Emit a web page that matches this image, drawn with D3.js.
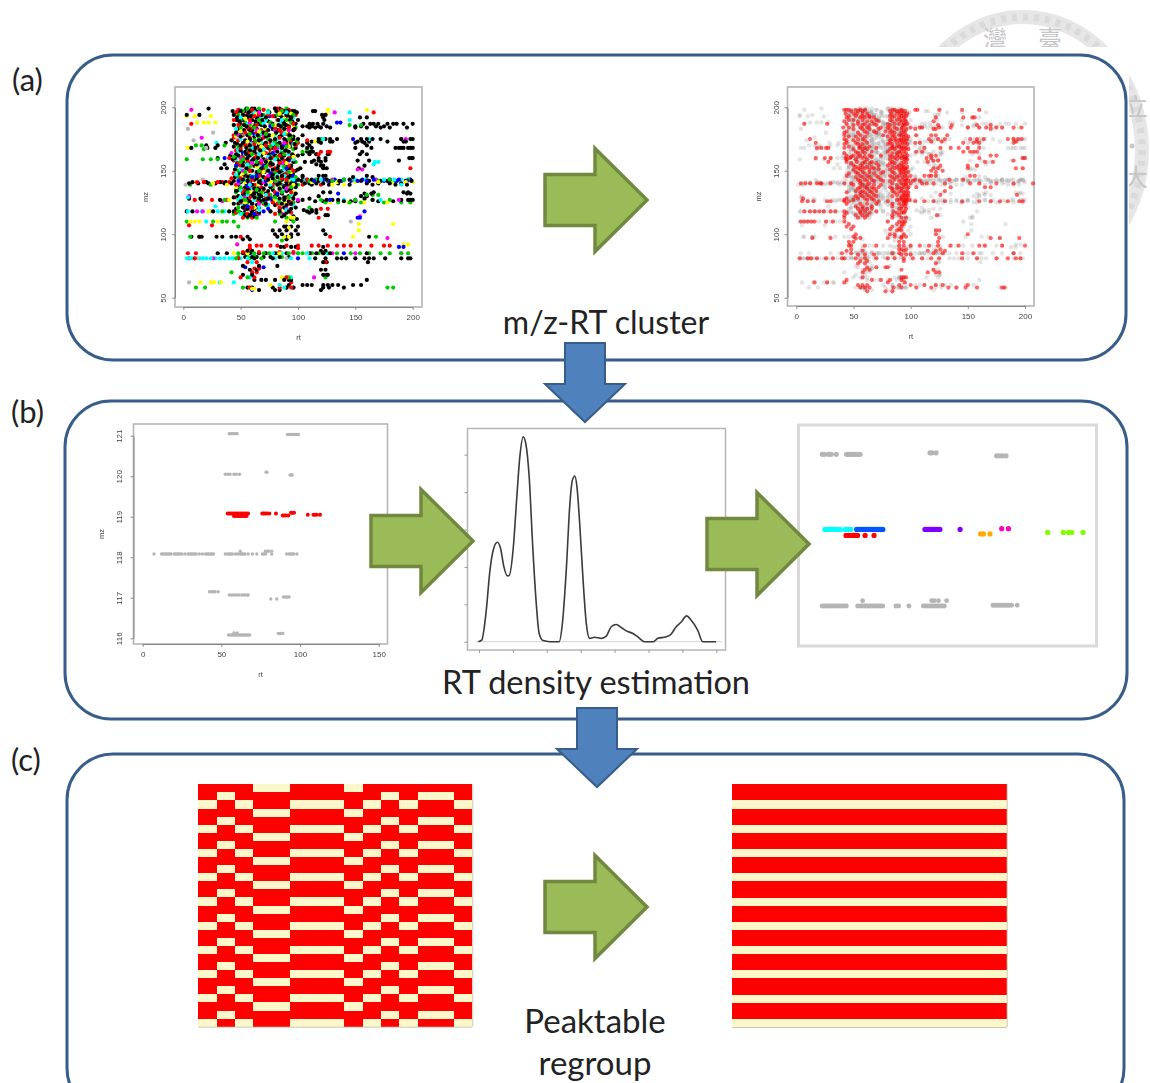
<!DOCTYPE html>
<html>
<head>
<meta charset="utf-8">
<script src="https://cdnjs.cloudflare.com/ajax/libs/d3/7.8.5/d3.min.js"></script>
<style>
  html, body { margin: 0; padding: 0; background: #fff; }
  svg { display: block; }
</style>
</head>
<body>
<div id="chart"></div>
<script>
// each row is [mz, rt, rt, rt ...]
const clusterBlack = [
  [199,22,55,60,62,80,84],[197,43,50,54,58,63,66,81,88,91,95,97,113,115],[194,3,14,44,52,61,68,84,90,121,124],
  [192,47,56,64,72,86,94,122,154,160],[190,46,52,60,69,83,93,100,123],
  [187,49,58,66,78,88,98,110,113,117,122,157,163,166,170,178,183,186,192,200],[185,55,62,71,85,92,104,108,112,118,125,150,155,168,175],
  [182,53,60,74,82,90,96],[178,56,65,75,86,93,104],[175,58,68,80,88,96,100,118,124,128,134,155,160,165,172,190,198,200],
  [172,37,45,52,61,72,84,94,108,120,150,158],[170,20,30,50,58,66,78,90,104,110,160],[168,7,21,28,55,63,74,86,98,188,192,196,198],
  [165,54,62,70,82,92,108,111,113,156],[162,41,48,58,68,80,88,100],[160,30,45,56,65,76,86,94,118,124,197,199,200],
  [157,52,60,72,84,96,106,112,120],[155,36,48,64,78,90,116],[152,33,38,55,68,82,92,102,122,125,153],[150,50,60,74,86,98],
  [147,53,66,78,88,94],[145,45,56,70,82,92,104,148,165],[143,52,62,74,86,100,112,117,125,145],[141,8,20,32,37,50,58,66,80,90],
  [140,5,13,22,28,36,42,55,68,84,94,106,110,116,122,135,160,170,180,190],[137,54,64,76,88,98],[135,48,57,66,78,92],
  [132,54,62,72,86,98,158,164,195,198],[130,48,58,68,80,92],[128,5,15,56,66,74,84,96,110,158],
  [127,32,50,70,88,104,125,130,135,165,190,196,198,200],[124,44,48,60,72,86,94],[121,52,58,66,88,98],
  [118,3,8,26,40,44,54,60,76,84,92,108,112],[115,54,58,64,88,124,126],[112,94,99],[106,88,90,94,100],[103,78,84,90,98,122],
  [100,80,86,94,100,124],[98,7,14,16,29,34,42,46,56,82,90,94,162],[96,52,58,90],[90,85,88,94,98,122],[87,56,60,120,124],
  [85,30,38,52,58,66,72,80,90,110,116,122,128,160],[82,54,60,64,70,76,84,92],[81,62,78,115,124,134,138,142,150,158,162,166,176,190,196,198],
  [78,122,125,161],[75,52,66,82],[72,58,64,120,124],[68,52,60,122,125,126],[64,62,68,72,80,88,92,94,160],
  [60,92,104,108,112,122,126,130,135,148,155],[58,56,60,78,90,96,122,127,140],[56,66,80,84,120],
  [196,47,57,65,75,86,92,99],[193,55,59,66,80,93],[189,49,63,74,87,95],[186,44,53,68,83,89],[183,48,57,64,78,88,97],[180,46,59,70,81,91],
  [177,50,62,72,84,96],[174,42,54,66,76,90],[171,47,57,69,82,97],[169,44,60,73,86,93],[166,50,58,67,79,89],[163,46,55,64,75,85,95],
  [159,43,53,61,70,82,91],[156,47,56,66,76,88],[154,52,62,72,83,94],[151,45,57,68,78,90,100],[149,49,64,71,84,96],[146,48,59,67,76,86,95],
  [144,54,64,78,90],[142,44,56,68,84,96,103,109,118,128,136,150,155,162,172,178,186,194,199],[139,48,60,72,82,90,98,112,127,145,165,185,195],
  [136,50,62,70,84,94],[134,46,56,64,74,90],[131,52,60,66,82,96],[129,44,54,62,76,88],[126,50,58,68,78,92,100,115,122,140,146,150,170,183],
  [123,54,64,80,90],[120,46,56,62,84,94],[117,50,60,66,90,110,116],[114,56,62,86,96],
  [184,110,115,120,128,150,160,172,180,195],[173,112,118,128,130,152,156,162,178,192,194],[168,108,112,150,164,185,190,200],
  [163,104,110,116,126,154,160],[158,114,118,124,152,162,188],[154,120,122,158],[146,104,118,122,124,160],[133,122,128,166,192,196],
  [130,118,155,160],[119,105,112,116]
];
const clusterRed = [
  [199,80,82],[196,46,56,84,166],[193,62,78,90],[187,7,50,66,88,96],[184,56,60,80,92],[180,54,64,72,86],[176,44,58,70,84],
  [172,62,76,90,100],[168,50,66,80],[164,56,72,88],[160,40,52,62,78,92],[156,48,58,68,84],[152,56,70,80,94,198],[148,44,54,64,90],
  [144,42,50,72,86],[141,12,18,30,34,40,58],[139,46,62,78,92,104,120],[135,54,70,84],[131,60,74,96],[127,10,16,25,38,52,64],
  [124,70,82,92],[120,62,120,126],[116,56,80],[107,5,25],[98,14,50,128],
  [91,58,64,68,76,82,90,100,112,118,126,134,140,146,154,164,175,180],[85,4,11,54,122],[81,5,10,48],[73,62,66],[62,94],[58,58,84,94],
  [198,48,60,70,86,92],[194,52,66,74,94,98],[190,44,58,70,82],[186,48,64,76,90],[182,58,68,84,96],[178,44,52,74,92],[174,48,66,80,94,108],
  [170,54,62,72,86,98],[166,46,60,76,90],[162,52,64,84,96],[158,44,56,72,88],[154,50,62,76,92],[150,58,68,82,96],[146,46,54,66,86],
  [143,60,72,90,100,108],[137,48,56,68,88],[133,52,62,80,94],[129,46,58,72,90],[125,50,66,78,94],[121,54,60,84],[117,46,64,94],[113,52,60,118],
  [89,58,100],[86,52,66,84,96],[78,56,64,124],[70,60,64],[66,50,62,90],[163,116,118,127],[165,120,126,128]
];
const clusterGreen = [
  [197,52,60,74,86],[190,50,66,90],[186,44,58,78,145,155],[181,68,84],[175,62,74,92,120],[170,11,16,36,56,82],[167,18,66,96,108],
  [163,60,78,88],[159,3,17,24,30,52,70,86],[155,60,74],[150,48,66,84,96],[146,56,78],[142,50,68,80,110,130,150,170],
  [139,6,24,60,86,100],[135,46,64],[131,76,160,165,170],[127,36,54,120,150,165,180],[123,72],[118,34,48,76],
  [110,3,26,34,38,44,80,96],[106,48],[98,6,168],[95,86],[85,48,62,75,100,118,126,134,154,172,190],[81,46,58,68],[70,42],
  [66,56,92,124],[58,11,19,52,58,90,178,183],
  [199,56,66,90],[194,48,70,82,96],[188,54,68,76,94],[184,50,62,86,98],[179,46,58,72,90],[177,66,94],[173,54,64,80,99],[169,48,60,76,90],
  [165,56,70,86,104],[161,44,66,82,94],[157,50,64,76,98],[153,46,58,72,88],[149,54,68,80,92],[145,48,62,74,98],
  [143,58,66,84,90,115,125,140,160,180,196],[137,50,62,78,94],[133,46,56,68,86],[129,52,64,80,92],[125,56,70,84,96,124,135,145,155,175,190,198],
  [121,48,60,88,110],[116,44,52,60,84],[113,56,64,90],[85,70,82,92,104,112,146,162,180,196],[82,48,56,62,86]
];
const clusterCyan = [
  [198,50,56,70],[194,62],[190,72,86,145],[183,88],[178,64,80],[172,29,68],[168,60,84],[165,48],[161,56,74],[157,72,167,170],
  [154,64,86],[150,70],[146,60,88],[143,94,120,140,150,168,175,180,190],[136,60,84],[129,4,50],[122,28,66],[118,4,16,30,36],
  [110,20],[85,60,78,100],[81,3,6,8,10,14,17,20,24,28,32,36,40,43,50,56,80,94,110],[62,32,44],[60,84],[58,88],
  [196,62,74,90,145],[192,50,68,96],[187,56,70,84],[183,46,64,78],[179,54,68,88],[175,50,66,82,122,162],[171,60,78,96],[167,48,70,86],
  [163,54,66,92],[159,46,62,80,96],[155,56,68,84,166],[151,50,74,88],[147,46,64,82],[143,54,70,96,105,132,145,158,184,196],[139,58,76,92,190],
  [135,50,66,88],[131,56,72,94],[127,48,62,82,140,172],[123,52,74,96],[119,58,66,90],[116,50,60],[85,66,72,86,108,124],[78,60],[66,58,90,94]
];
const clusterYellow = [
  [198,126,160],[193,3,10,24],[188,12,18,22,28],[183,72],[178,50,78],[172,66,94],[168,4,56],[164,70],[160,82],[156,60,90],[152,72],
  [148,52],[144,84],[140,26],[139,38,64,96,130,140],[134,66],[127,40,48,80],[118,22],[110,6,10,14,30,90],[108,153,183],[105,92],
  [103,153],[98,148],[92,47,192,196],[85,44],[62,15,24,27,33],[60,76,84],[57,60,62],
  [195,46,64,84,94,125],[191,54,72,88],[186,60,80,96],[181,50,66,90],[177,46,62,84],[173,56,76,98,115],[169,50,68,92],[165,58,78,88],
  [161,48,66,96],[157,54,74,84],[153,46,64,90],[149,58,70,94],[145,50,66,86],[141,54,76,92,112,134,150,170,182,194,200],[137,46,62,84],
  [133,58,70,96],[129,50,66,90],[125,54,72,88,128,144,158,178],[121,48,62],[117,56,86],[113,92,94,96],[85,56,84,108],[98,88,92],[66,90,86]
];
const clusterBlue = [
  [197,60],[193,75],[188,134,137],[185,76],[179,62,90],[175,148],[168,78],[160,36],[156,66],[152,90],[148,76],[145,60],
  [142,98,114,126,138,146,152,160,175,185,195],[134,52],[127,72,128],[122,56],[118,70],[113,152,154],[90,188,192],[85,140],[81,100],
  [74,54,70],[56,60],
  [194,56,68,90],[186,62,84],[180,50,72],[174,58,94],[170,66,88],[164,52,78],[158,60,92],[154,46,70],[150,58,84],[146,64,96],[142,48,72],
  [138,56,88],[132,66,82,135],[128,50,76],[124,60,94],[120,54,74],[143,108,122,132,140,156,166,180,188,198],[116,62],[118,158]
];
const clusterMagenta = [
  [198,7],[190,48],[182,80],[176,16],[172,72],[168,82],[164,42],[158,68],[151,152,156],[146,74],[141,70],[138,58],[130,5],[126,34],
  [118,12,17],[114,154],[97,178],[85,190],[81,26],[73,66],[66,114],[58,96],
  [196,66,86,132],[188,58,76],[182,64,92],[178,48,70],[172,56,88],[166,62,80],[160,50,74,96],[156,60,86],[150,52,78],[146,66,92],
  [140,48,58,82],[136,62,90],[130,54,72,94],[124,66,84],[120,58,90],[116,66,86],[85,85,96,112,130,150],[175,190,194],[143,130,168,198],
  [127,100,150,188],[92,47]
];
const clusterGray = [
  [183,4],[180,26],[174,9],[168,20],[143,17],[139,2],[118,24],[110,146],[81,12,90],[62,5]
];
const clusterColors = ["#b8b8b8", "#ffff00", "#00ffff", "#ff00ff", "#0000ff", "#00cd00", "#ff0000", "#000000"];

const selectedRed = [
  [198,42,44,46,52,56,60,84,86,92,104,106,125,145,160],[195,43,50,53,58,62,83,88,91,94,97],[192,44,56,60,64,68,84,90,94,122,146,154,156],
  [189,42,54,62,66,72,84,92,96,120],[187,7,27],[186,50,58,64,70,82,93,95,124,136,158,170],
  [184,41,46,56,62,74,80,86,93,100,108,110,125,135,150,160,166,175,180,190,197],[181,44,60,68,78,84,94],
  [178,42,56,76,84,90,92,96,105,118,122,132],[175,12,42,54,58,83,87,91,94,97,116,124,130,152,158,164,185,190,194,197],
  [172,17,44,52,62,82,88,93,95,104,108,146,155,160,190],[168,18,22,26,28,42,55,60,70,84,92,96,112,126,135,142,150,160],
  [165,52,58,66,80,90,94,110,155],[162,44,50,56,64,74,82,88,93,97,118,122,170,175],[160,17,25,30,43,47,58,86,92,96,114,118,160,198,200],
  [157,28,44,53,60,66,84,94,115,165,172],[154,50,56,72,80,90,93,126,150,158],[152,54,60,68,86,92,96,120,124,150,192,198],
  [149,52,58,64,76,84,91,94,98,122],[146,44,56,62,70,82,90,95,100,118,156],[143,54,60,66,74,86,93,96,104,134,146],
  [140,4,8,12,18,21,22,30,42,48,56,64,84,92,96,100,110,114,120,130,152,160,175,190,207],[137,56,60,66,72,82,90,94,98,105,135,165,170],
  [134,52,58,64,70,84,92,96,130],[131,56,62,68,88,94,97,126,193],[128,6,44,54,60,66,92,96],
  [126,5,10,15,27,30,42,46,72,80,94,96,104,112,120,130,145,160,170,178,185,195,198],[122,52,58,66,84,92,95],
  [118,7,12,16,20,24,30,34,42,56,60,70,85,95],[115,42,52,58,62,84,90,123],[110,4,7,10,13,16,26,32,42,80,90,93,95],[106,44,50,84,92],
  [103,88,92,122,125],[100,52,82,86,94,122,150],[97,14,30,52,56,80,92,125,170,178,195],
  [91,46,48,60,70,90,94,100,108,116,124,135,142,160,165,180,200],[87,44,58,94,115,122,130],[85,40,48,84,90,120,128,145,155,190],
  [81,3,10,13,18,26,32,40,42,52,60,70,80,86,94,102,110,118,125,145,158,175,185,192,196],[77,54,60,122],[74,62,70,78,80],
  [70,58,115,122,125],[64,44,66,74,82,92],[62,16,27,42,80,95],[60,54,58,62,90,100,112,122,128,150],
  [58,56,60,64,85,92,105,118,133,140,148,158,180,182],[55,62,78,84],
  [197,48,54,58,82,88,90,93,95],[193,46,52,58,64,82,86,92,96],[190,46,50,58,70,82,88,91,95],[187,44,54,60,68,80,86,90,94,97],
  [183,50,58,64,72,82,88,92,96],[180,42,54,62,70,82,86,92,95],[177,46,52,60,80,86,94,98],[174,44,50,60,82,86,90,92,96],[171,42,54,58,80,84,91,97],
  [169,46,56,64,84,88,90,94],[167,50,58,62,82,86,92,95,98],[164,42,54,60,84,88,91,96],[161,48,54,60,66,84,90,94],[159,44,52,62,82,88,95,97],
  [156,48,58,64,70,82,86,92,96],[153,52,58,62,66,84,88,94,97],[151,50,56,64,72,82,90,93,95],[148,46,54,60,68,74,86,92,96],[145,52,58,64,72,84,88,93,97],
  [142,56,62,68,76,82,90,95,98,102,108],[139,50,58,62,68,74,88,94,96],[136,54,62,68,84,88,92,97],[133,44,56,60,66,86,90,94,98],
  [130,52,58,64,70,84,92,95,98],[127,42,50,62,68,88,90,93,95,97,99],[124,44,56,62,70,84,90,94,96],[120,54,58,62,66,90,92,96],[117,44,56,64,88,92,94],
  [113,42,54,60,84,92,96],[108,46,88,92,94],[104,48,82,90],[98,50,86,92,96],[94,46,50,90,94,124],[88,48,90,92,96,126],[84,54,60,68,92,96,100],
  [79,56,62,94],[72,60,64,92,120],[66,58,92,94,96],[146,112,116,122,152],[150,118,128],[183,104,120,122,170],[173,118,127,158,192],
  [165,105,146,152,158],[158,120,124,190]
];

// panel b, one m/z slice
const sliceGray = [
  [121.05,55,56,57,58,59,60],[121.03,92,93,94,95,96,97,98,99],[120.05,52.5,54,55.5,58,59.5,61.5],[120.1,78.4,79],[120.03,93.6,94.5,95],
  [118.08,7.2,12,13,14,15,16,17,18,20,21,22,23,24,25,27,29,30,31,32,33,34,36,38,40,41,42,43,44,45,52.5,54,55,56,57,59,60.5,62,63,64,65,67,69.7,72.5,76,77,78,82,91.5,93,94,95,96,98],
  [118.15,62,78,79,80,82],[117.15,42.5,44,45,46,48],[117.07,55,56.5,58,59.5,61,63,64.5,66,67],[116.97,81.4,85.2],[117.02,89.5,91,92,93],
  [116.08,54.5,56,57,58,59,60,61,62,63,64,65,66,67,68],[116.12,86.2,87.5,89],[116.13,58,60]
];
const sliceRed = [
  [119.08,54,55,56,57,58,59,60,61,62,63,64,65,66,67],[119.02,58,59,60,61,62,63,64,65,66],[119.08,76,77,78,79,80.5],[119.08,84.7],
  [119.03,89,90,91,92.5],[119.1,94.3,95,96.2],[119.05,104.9,108.5,109.5,110.6,112.7]
];

// RT density curve
const densityRt = [-0.4,1.6,4.1,6.5,8.4,10.8,12.7,14.7,16.7,17.8,20.2,22.2,24.1,26.1,27.6,29.6,31.6,33.5,35.5,37.8,41.8,47.3,49.2,51.6,53.5,55.1,56.5,57.8,59.4,61.4,63.3,65.3,68.2,72.2,75.1,78,81,83.9,86.9,90.8,93.7,97.6,102.9,105.5,110.4,113.3,116.3,119.2,122.5,125.1,129,132,139.8];
const densityVal = [0,0.04,0.76,1.92,2.45,2.66,2.5,2,1.76,1.77,2.5,3.79,4.95,5.48,5.3,4.41,2.63,1.2,0.22,0.03,0,0,0.49,2,3.61,4.32,4.43,4.14,3.16,1.65,0.49,0.09,0.12,0.09,0.15,0.4,0.46,0.38,0.29,0.22,0.13,0,0,0.09,0.13,0.2,0.4,0.52,0.69,0.58,0.31,0,0];
const densityXTicks = [0,20,40,60,80,100,120,140];
const densityYTicks = [0,1,2,3,4,5];

// panel b, density groups
const groupTopGray = [[120,6.6,7.7,10,11.4,14.1,19.6,20.6,21.6,22.6,23.6,24.6,25.8,26.8],[120.02,64.3,65.3,67.5],[119.98,100,101.5,103,105]];
const groupBottomGray = [
  [118,6.5,7.5,8.5,9.5,10.5,11.5,12.5,13.5,14.5,15.5,16.5,17.5,18.5,19.5,25.5,27,28,29,30,31,32,33,34,35,36,37,38,39,46,47.5,53,60.7,62,63,64,65,66,67,68,69,70,71,72],
  [118.07,28.2,65.2,66.5,68.8,73.2],[118.01,98,99,100,101,102,103,104,105,106,107,108,111]
];
const groupCyan = [[119.01,8,8.9,9.8,10.7,11.6,12.5,13.4,14.3,16.1,18.8,19.6,20.5,21.8]];
const groupBlue = [[119.01,25,26,27,28,29,30,31,32,33,34,35,36,37,38,39]];
const groupRed = [[118.93,19.3,20.5,21.5,22.5,23.5,24.5,25.5,29.5,34.3]];
const groupPurple = [[119.01,61.6,62.5,63.4,64.3,65.2,66.1,67,67.9,68.8,69.6,80.4]];
const groupOrange = [[118.95,91.4,92.9,96.4]];
const groupMagenta = [[119.02,102.7,106.3]];
const groupGreen = [[118.97,127.3,135.7,138.6,140.2,146.3]];

// panel c, peak table before / after regrouping ("1" is a peak)
const tableBefore = [
  "111001110111111","101111111101001","010110001010110","111001110111111","101111111101001","010110001010110",
  "111001110111111","101111111101001","010110001010110","111001110111111","101111111101001","010110001010110",
  "111001110111111","101111111101001","010110001010110","111001110111111","101111111101001","010110001010110",
  "111001110111111","101111111101001","010110001010110","111001110111111","101111111101001","010110001010110",
  "111001110111111","101111111101001","010110001010110","111001110111111","101111111101001","010110001010110"
];
const tableAfter = [
  "111111111111111","111111111111111","000000000000000","111111111111111","111111111111111","000000000000000",
  "111111111111111","111111111111111","000000000000000","111111111111111","111111111111111","000000000000000",
  "111111111111111","111111111111111","000000000000000","111111111111111","111111111111111","000000000000000",
  "111111111111111","111111111111111","000000000000000","111111111111111","111111111111111","000000000000000",
  "111111111111111","111111111111111","000000000000000","111111111111111","111111111111111","000000000000000"
];

const rowsToPoints = rows => rows.flatMap(([mz, ...rts]) => rts.map(rt => ({rt: rt, mz: mz})));

const svg = d3.select("#chart").append("svg").attr("width", 1150).attr("height", 1083);
const labelFont = "Lato, 'Open Sans', sans-serif";

const defs = svg.append("defs");
defs.append("filter").attr("id", "soft").attr("x", "-5%").attr("y", "-5%").attr("width", "110%").attr("height", "110%")
  .append("feGaussianBlur").attr("stdDeviation", 0.6);

// seal watermark behind the panels
const seal = svg.append("g");
seal.append("ellipse").attr("cx", 1023).attr("cy", 150).attr("rx", 119).attr("ry", 133)
  .attr("fill", "none").attr("stroke", "#e6e6e6").attr("stroke-width", 14);
seal.append("ellipse").attr("cx", 1023).attr("cy", 150).attr("rx", 119).attr("ry", 133)
  .attr("fill", "none").attr("stroke", "#dadada").attr("stroke-width", 7).attr("stroke-dasharray", "5 6");
seal.selectAll("text").data([["灣", 995, 48], ["臺", 1050, 48], ["立", 1136, 116], ["大", 1136, 186]]).join("text")
  .attr("x", d => d[1]).attr("y", d => d[2]).attr("text-anchor", "middle")
  .attr("font-family", "'Noto Sans CJK TC'").attr("font-size", 24).attr("fill", "#c6c6c6").text(d => d[0]);
seal.append("circle").attr("cx", 1132).attr("cy", 146).attr("r", 2.5).attr("fill", "#c8c8c8");
svg.append("rect").attr("x", 0).attr("y", 47).attr("width", 1129).attr("height", 1036).attr("fill", "#fff");
svg.append("rect").attr("x", 1129).attr("y", 240).attr("width", 21).attr("height", 843).attr("fill", "#fff");

// rounded panels
[[67, 55, 1059, 305], [65, 401, 1062, 318], [67, 754, 1057, 360]].forEach(p => {
  svg.append("rect").attr("x", p[0]).attr("y", p[1]).attr("width", p[2]).attr("height", p[3])
    .attr("rx", 46).attr("ry", 46).attr("fill", "#fff").attr("stroke", "#385d8a").attr("stroke-width", 3);
});

// panel letters and captions
[["(a)", 12, 91], ["(b)", 11, 423], ["(c)", 11, 771]].forEach(t => {
  svg.append("text").attr("x", t[1]).attr("y", t[2]).attr("font-family", labelFont).attr("font-size", 31).attr("fill", "#222").text(t[0]);
});
[["m/z-RT cluster", 606, 334, 32], ["RT density estimation", 596, 694, 32.5], ["Peaktable", 595, 1033, 33], ["regroup", 595, 1075, 33]].forEach(t => {
  svg.append("text").attr("x", t[1]).attr("y", t[2]).attr("text-anchor", "middle")
    .attr("font-family", labelFont).attr("font-size", t[3]).attr("fill", "#222").text(t[0]);
});

// R style plot frame with rotated y labels
function drawFrame(box, x, y, xTicks, yTicks) {
  const g = svg.append("g").attr("filter", "url(#soft)");
  g.append("rect").attr("x", box.left).attr("y", box.top).attr("width", box.right - box.left).attr("height", box.bottom - box.top)
    .attr("fill", "#fff").attr("stroke", "#b5b5b5").attr("stroke-width", 1.6);

  const fmt = d3.format("d");
  const xAxis = g.append("g").attr("transform", `translate(0,${box.bottom})`)
    .call(d3.axisBottom(x).tickValues(xTicks).tickFormat(fmt).tickSize(3).tickSizeOuter(0).tickPadding(4));
  const yAxis = g.append("g").attr("transform", `translate(${box.left},0)`)
    .call(d3.axisLeft(y).tickValues(yTicks).tickFormat(fmt).tickSize(3).tickSizeOuter(0));
  yAxis.selectAll("text").attr("transform", "rotate(-90)").attr("text-anchor", "middle")
    .attr("x", 0).attr("y", box.labelOffset).attr("dy", 0);
  [xAxis, yAxis].forEach(a => {
    a.selectAll("path, line").attr("stroke", "#777").attr("stroke-width", 0.8);
    a.selectAll("text").attr("fill", "#444").attr("font-family", "'Liberation Sans'").attr("font-size", 8);
  });
  g.append("text").attr("x", (box.left + box.right) / 2).attr("y", box.bottom + 33).attr("text-anchor", "middle")
    .attr("font-family", "'Liberation Sans'").attr("font-size", 7.5).attr("fill", "#444").text("rt");
  g.append("text").attr("transform", `translate(${box.left - box.titleOffset},${(box.top + box.bottom) / 2}) rotate(-90)`).attr("text-anchor", "middle")
    .attr("font-family", "'Liberation Sans'").attr("font-size", 7.5).attr("fill", "#444").text("mz");
  return g;
}

function drawPoints(g, pts, x, y, r, fill, opacity) {
  g.append("g").selectAll("circle").data(pts).join("circle")
    .attr("cx", d => x(d.rt)).attr("cy", d => y(d.mz)).attr("r", r)
    .attr("fill", fill).attr("opacity", opacity);
}

// (a) left, clusters in many colours
const xA1 = d3.scaleLinear().domain([0, 200]).range([183.3, 412.7]);
const yA1 = d3.scaleLinear().domain([50, 200]).range([297.7, 107.3]);
const gA1 = drawFrame({left: 175, right: 422, top: 87, bottom: 307, labelOffset: -9, titleOffset: 27}, xA1, yA1, [0, 50, 100, 150, 200], [50, 100, 150, 200]);
const clusterSets = [clusterGray, clusterYellow, clusterCyan, clusterMagenta, clusterBlue, clusterGreen, clusterRed, clusterBlack];
const clusterPoints = clusterSets.flatMap((rows, i) => rowsToPoints(rows).map(p => ({rt: p.rt, mz: p.mz, color: clusterColors[i]})));
// fixed mixed draw order so no single colour ends up on top everywhere
const mixed = clusterPoints.slice().sort((a, b) => (a.rt * 37 + a.mz * 17) % 11 - (b.rt * 37 + b.mz * 17) % 11);
gA1.append("g").selectAll("circle").data(mixed).join("circle")
  .attr("cx", d => xA1(d.rt)).attr("cy", d => yA1(d.mz)).attr("r", 2.1).attr("fill", d => d.color);

// (a) right, selected peaks in red over the faded cloud
const xA2 = d3.scaleLinear().domain([0, 200]).range([796.3, 1025]);
const yA2 = d3.scaleLinear().domain([50, 200]).range([297.7, 107.3]);
const gA2 = drawFrame({left: 787.5, right: 1034, top: 87, bottom: 306, labelOffset: -9, titleOffset: 27}, xA2, yA2, [0, 50, 100, 150, 200], [50, 100, 150, 200]);
drawPoints(gA2, clusterPoints, xA2, yA2, 2.2, "#7a7a7a", 0.2);
drawPoints(gA2, rowsToPoints(selectedRed), xA2, yA2, 2.1, "#ff0000", 0.6);

// (b) left, one m/z slice
const xB1 = d3.scaleLinear().domain([0, 150]).range([142.7, 378.7]);
const yB1 = d3.scaleLinear().domain([116, 121]).range([638.3, 435.7]);
const gB1 = drawFrame({left: 133.5, right: 387.5, top: 424, bottom: 644, labelOffset: -12, titleOffset: 30}, xB1, yB1, [0, 50, 100, 150], [116, 117, 118, 119, 120, 121]);
drawPoints(gB1, rowsToPoints(sliceGray), xB1, yB1, 1.7, "#b5b5b5", 1);
drawPoints(gB1, rowsToPoints(sliceRed), xB1, yB1, 2, "#ff0000", 1);

// (b) middle, density curve
const xB2 = d3.scaleLinear().domain([0, 140]).range([479, 716.3]);
const yB2 = d3.scaleLinear().domain([0, 5]).range([641.7, 454.7]);
const gB2 = svg.append("g").attr("filter", "url(#soft)");
gB2.append("rect").attr("x", 467.5).attr("y", 428.5).attr("width", 258).attr("height", 221.5)
  .attr("fill", "#fff").attr("stroke", "#b5b5b5").attr("stroke-width", 1.5);
gB2.append("g").attr("transform", "translate(0,650)")
  .call(d3.axisBottom(xB2).tickValues(densityXTicks).tickSize(3).tickFormat(""))
  .call(a => a.selectAll("path").remove())
  .call(a => a.selectAll("line").attr("stroke", "#999"));
gB2.append("g").attr("transform", "translate(467.5,0)")
  .call(d3.axisLeft(yB2).tickValues(densityYTicks).tickSize(3).tickFormat(""))
  .call(a => a.selectAll("path").remove())
  .call(a => a.selectAll("line").attr("stroke", "#999"));
gB2.append("line").attr("x1", xB2(-2)).attr("x2", 722).attr("y1", yB2(0)).attr("y2", yB2(0))
  .attr("stroke", "#d5d5d5").attr("stroke-width", 1);
gB2.append("path").datum(d3.zip(densityRt, densityVal))
  .attr("fill", "none").attr("stroke", "#3a3a3a").attr("stroke-width", 1.6)
  .attr("d", d3.line().x(d => xB2(d[0])).y(d => yB2(d[1])).curve(d3.curveMonotoneX));

// (b) right, density groups
const xB3 = d3.scaleLinear().domain([0, 150]).range([810, 1090]);
const yB3 = d3.scaleLinear().domain([118, 120]).range([606, 454.3]);
const gB3 = svg.append("g").attr("filter", "url(#soft)");
gB3.append("rect").attr("x", 798.5).attr("y", 425).attr("width", 298).attr("height", 221)
  .attr("fill", "#fff").attr("stroke", "#d9d9d9").attr("stroke-width", 3);
drawPoints(gB3, rowsToPoints(groupTopGray), xB3, yB3, 2.6, "#b5b5b5", 1);
drawPoints(gB3, rowsToPoints(groupBottomGray), xB3, yB3, 2.4, "#b5b5b5", 1);
[[groupCyan, "#00ffff"], [groupRed, "#ff0000"], [groupBlue, "#0055ff"], [groupPurple, "#8000ff"],
 [groupOrange, "#ffaa00"], [groupMagenta, "#ff00bf"], [groupGreen, "#80ff00"]].forEach(s => {
  drawPoints(gB3, rowsToPoints(s[0]), xB3, yB3, 2.6, s[1], 1);
});

// (c) peak tables
function drawTable(rows, left, right, top, bottom) {
  const cols = d3.range(rows[0].length);
  const x = d3.scaleBand().domain(cols).range([left, right]);
  const y = d3.scaleBand().domain(d3.range(rows.length)).range([top, bottom]);
  const cells = rows.flatMap((row, r) => cols.map(c => ({r: r, c: c, on: row[c] === "1"})));
  const g = svg.append("g").attr("filter", "url(#soft)");
  g.selectAll("rect").data(cells).join("rect")
    .attr("x", d => x(d.c)).attr("y", d => y(d.r))
    .attr("width", x.bandwidth()).attr("height", y.bandwidth())
    .attr("shape-rendering", "crispEdges")
    .attr("fill", d => d.on ? "#ff0000" : "#fdf8cb");
  g.append("line").attr("x1", left).attr("x2", right).attr("y1", bottom + 0.5).attr("y2", bottom + 0.5).attr("stroke", "#c8c8b8").attr("stroke-width", 1);
  g.append("line").attr("x1", right + 0.5).attr("x2", right + 0.5).attr("y1", top).attr("y2", bottom).attr("stroke", "#c8c8b8").attr("stroke-width", 1);
}
drawTable(tableBefore, 198.3, 472.3, 784.3, 1026.7);
drawTable(tableAfter, 732.3, 1006.7, 784.3, 1027);

// block arrows
function rightArrow(x0, yc) {
  const p = [[x0, yc - 25.5], [x0 + 50, yc - 25.5], [x0 + 50, yc - 51.5], [x0 + 102, yc], [x0 + 50, yc + 51.5], [x0 + 50, yc + 25.5], [x0, yc + 25.5]];
  svg.append("path").attr("d", d3.line()(p) + "Z").attr("fill", "#9bbb59").attr("stroke", "#71893f").attr("stroke-width", 3.5);
}
function downArrow(xc, y0) {
  const p = [[xc - 20, y0], [xc + 20, y0], [xc + 20, y0 + 41], [xc + 40, y0 + 41], [xc, y0 + 79], [xc - 40, y0 + 41], [xc - 20, y0 + 41]];
  svg.append("path").attr("d", d3.line()(p) + "Z").attr("fill", "#4f81bd").attr("stroke", "#385d8a").attr("stroke-width", 2);
}
rightArrow(545, 200);
rightArrow(371, 541);
rightArrow(707, 544);
rightArrow(545, 907);
downArrow(585, 343);
downArrow(597, 708);
</script>
</body>
</html>
